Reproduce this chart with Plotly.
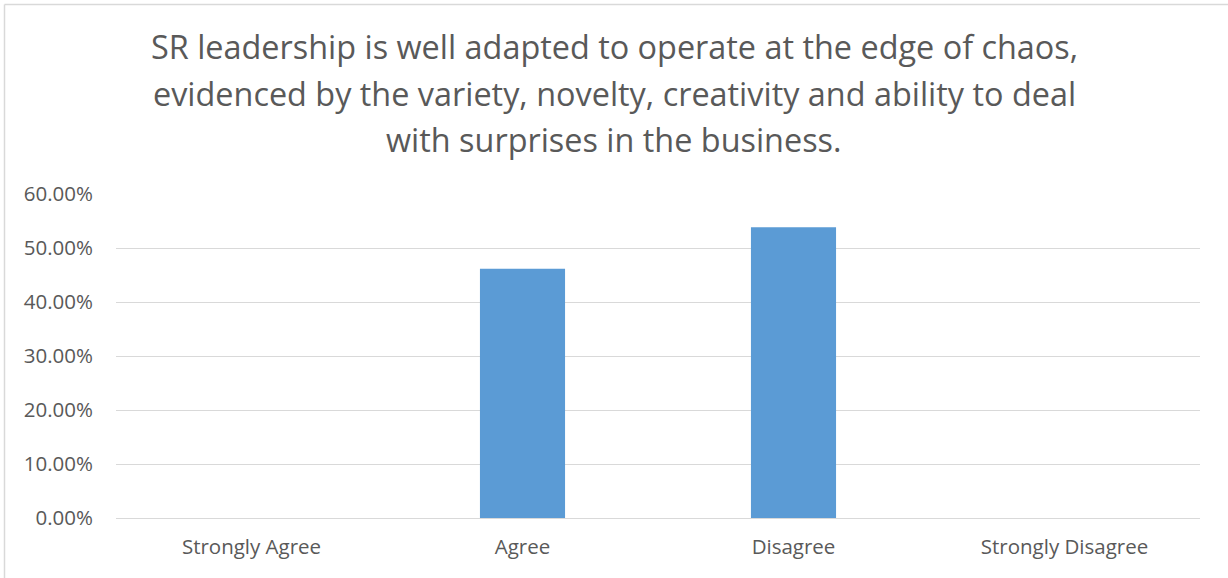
import plotly.graph_objects as go

# Survey responses (share of respondents)
categories = ["Strongly Agree", "Agree", "Disagree", "Strongly Disagree"]
shares = [0.0, 0.4615, 0.5385, 0.0]
y_ticks = [0.0, 0.1, 0.2, 0.3, 0.4, 0.5, 0.6]
title_lines = [
    "SR leadership is well adapted to operate at the edge of chaos,",
    "evidenced by the variety, novelty, creativity and ability to deal",
    "with surprises in the business.",
]

W, H = 1228, 578
PLOT_L, PLOT_R, PLOT_T, PLOT_B = 116, 1200, 194, 518
PW, PH = PLOT_R - PLOT_L, PLOT_B - PLOT_T
FONT = "Open Sans"
TEXT = "#595959"
GRID = "#D9D9D9"


def px_x(x):
    return (x - PLOT_L) / PW


def px_y(y):
    return (PLOT_B - y) / PH


fig = go.Figure()
fig.add_trace(go.Bar(
    x=categories,
    y=shares,
    marker=dict(color="#5B9BD5", line=dict(width=0)),
    width=0.314,
    hoverinfo="x+y",
))

# Title lines placed individually for Office-like line spacing
title_y = [46, 93, 139]
annotations = []
for line, ypx in zip(title_lines, title_y):
    annotations.append(dict(
        text=line, x=px_x(614), y=px_y(ypx), xref="paper", yref="paper",
        xanchor="center", yanchor="middle", showarrow=False,
        font=dict(family=FONT, size=32.4, color=TEXT),
    ))

# chart-area outline (left and top edges)
shapes = [
    dict(type="line", xref="paper", yref="paper",
         x0=px_x(4.5), x1=px_x(W + 2), y0=px_y(4.5), y1=px_y(4.5),
         line=dict(color=GRID, width=1.5)),
    dict(type="line", xref="paper", yref="paper",
         x0=px_x(4.5), x1=px_x(4.5), y0=px_y(4.5), y1=px_y(H + 2),
         line=dict(color=GRID, width=1.5)),
]

fig.update_layout(
    width=W, height=H,
    margin=dict(l=PLOT_L, r=W - PLOT_R, t=PLOT_T, b=H - PLOT_B, pad=0),
    paper_bgcolor="white", plot_bgcolor="white",
    showlegend=False,
    annotations=annotations,
    shapes=shapes,
    xaxis=dict(
        showgrid=False, showline=False, zeroline=False,
        tickfont=dict(family=FONT, size=20.5, color=TEXT),
        ticklabelstandoff=14,
    ),
    yaxis=dict(
        range=[0, 0.6], tickvals=y_ticks, tickformat=".2%",
        showgrid=True, gridcolor=GRID, gridwidth=1.3,
        zeroline=True, zerolinecolor=GRID, zerolinewidth=1.3,
        showline=False,
        tickfont=dict(family=FONT, size=20.5, color=TEXT),
        ticklabelstandoff=22,
    ),
)

fig.write_html("out.html")
